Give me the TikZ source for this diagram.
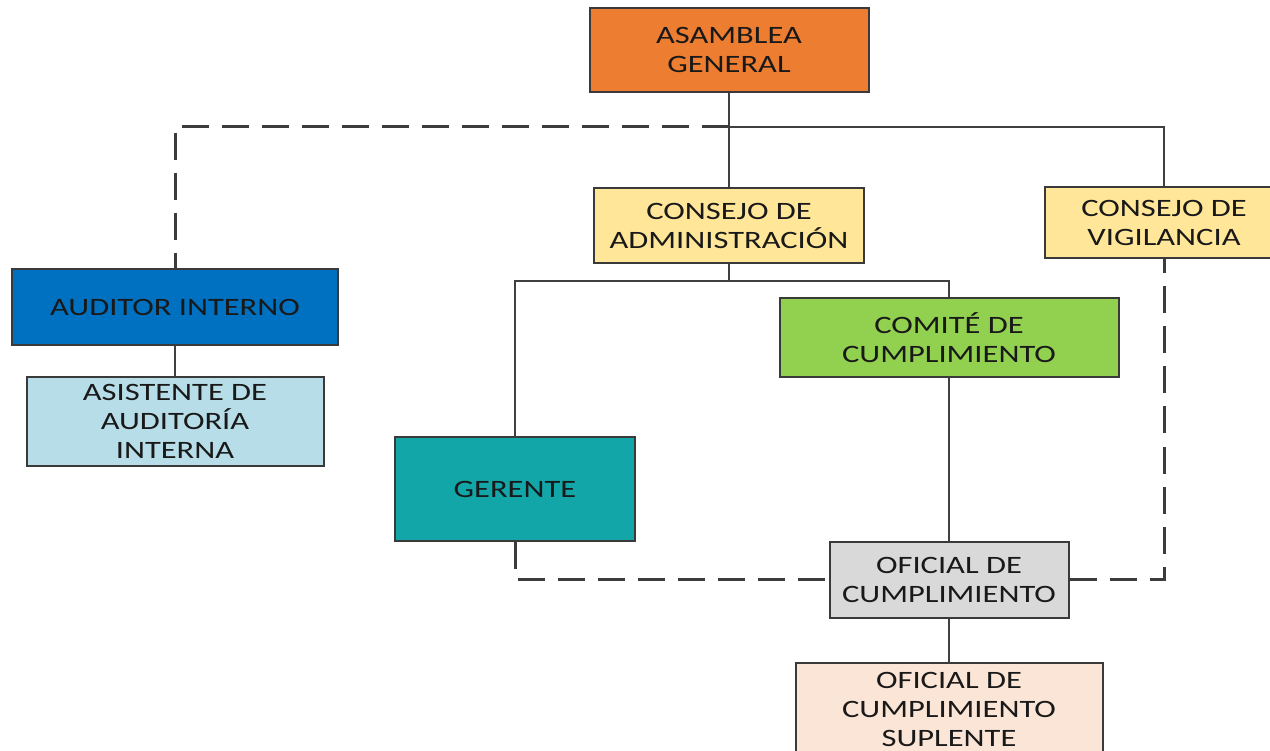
\documentclass[tikz,border=0pt]{standalone}
\usepackage{fontspec}
\setmainfont{Carlito}[FakeStretch=1.3]
\begin{document}
\begin{tikzpicture}[x=1pt,y=-1pt,
  box/.style={draw=boxline,line width=2pt,inner sep=0pt,align=center,
    font=\fontsize{25}{29}\selectfont,text=black!90},
  conn/.style={draw=lineclr,line width=2pt},
  dconn/.style={draw=dashclr,line width=3pt,dash pattern=on 27pt off 13pt}]
\definecolor{boxline}{HTML}{3A3A3A}
\definecolor{lineclr}{HTML}{404040}
\definecolor{dashclr}{HTML}{3C3C3C}
\definecolor{casam}{HTML}{ED7D31}
\definecolor{ccons}{HTML}{FFE699}
\definecolor{caud}{HTML}{0070C0}
\definecolor{casis}{HTML}{B7DEE8}
\definecolor{ccom}{HTML}{92D050}
\definecolor{cger}{HTML}{13A6A9}
\definecolor{cofi}{HTML}{D9D9D9}
\definecolor{csup}{HTML}{FBE5D6}
\clip (0,0) rectangle (1270,751);
\fill[white] (0,0) rectangle (1270,751);
% nodes
\node[box,fill=casam,minimum width=279pt,minimum height=84pt] (asam) at (729,50) {ASAMBLEA\\GENERAL};
\node[box,fill=ccons,minimum width=270pt,minimum height=75pt] (cadm) at (729,225.5) {CONSEJO DE\\ADMINISTRACIÓN};
\node[box,fill=ccons,minimum width=238pt,minimum height=71pt] (cvig) at (1164,223) {CONSEJO DE\\VIGILANCIA};
\node[box,fill=caud,minimum width=326pt,minimum height=76pt] (aud) at (175,307) {AUDITOR INTERNO};
\node[box,fill=casis,minimum width=297pt,minimum height=89pt] (asis) at (175,421.5) {ASISTENTE DE\\AUDITORÍA\\INTERNA};
\node[box,fill=ccom,minimum width=339pt,minimum height=79pt] (com) at (949,337.5) {COMITÉ DE\\CUMPLIMIENTO};
\node[box,fill=cger,minimum width=240pt,minimum height=104pt] (ger) at (515,489) {GERENTE};
\node[box,fill=cofi,minimum width=239pt,minimum height=76pt] (ofi) at (949,580) {OFICIAL DE\\CUMPLIMIENTO};
\node[box,fill=csup,minimum width=307pt,minimum height=92pt] (sup) at (949,709) {OFICIAL DE\\CUMPLIMIENTO\\SUPLENTE};
% junctions
\coordinate (j1) at (729,127);
\coordinate (j2) at (729,281);
\coordinate (jd1) at (515,579);
\coordinate (jd2) at (1164,579);
% solid connectors
\draw[conn] (asam.south) -- (cadm.north);
\draw[conn] (j1) -| (cvig.north);
\draw[conn] (cadm.south) -- (j2);
\draw[conn] (ger.north) |- (j2) -| (com.north);
\draw[conn] (aud.south) -- (asis.north);
\draw[conn] (com.south) -- (ofi.north);
\draw[conn] (ofi.south) -- (sup.north);
% dashed connectors
\draw[dconn] (j1) -| (aud.north);
\draw[dconn] (ger.south) |- (ofi.west |- jd1);
\draw[dconn] (ofi.east |- jd2) -| (cvig.south);
\end{tikzpicture}
\end{document}
